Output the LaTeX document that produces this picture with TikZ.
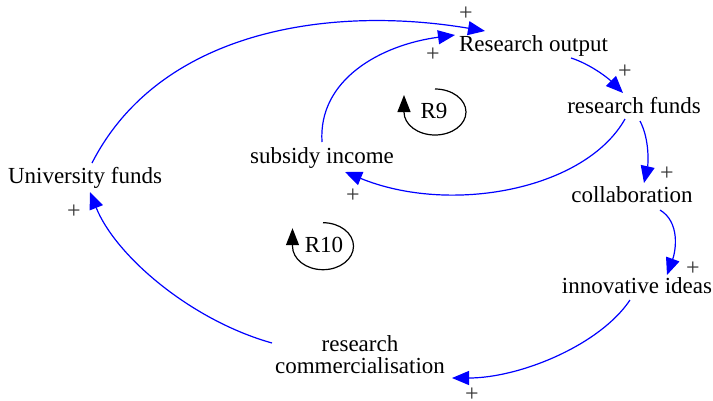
\documentclass[tikz,border=0pt]{standalone}
\usepackage{fontspec}
\setmainfont{Liberation Serif}
\usetikzlibrary{arrows.meta}
\definecolor{edgeblue}{RGB}{0,0,255}
\definecolor{plusgray}{RGB}{51,51,51}
\tikzset{
  lbl/.style={inner sep=0pt, font=\fontsize{23}{21.5}\selectfont, text=black},
  pluslbl/.style={inner sep=0pt, font=\fontsize{24}{24}\selectfont, text=plusgray},
  link/.style={draw=edgeblue, line width=1.2pt, -{Triangle[length=17pt,width=14pt]}, fill=none},
  loopline/.style={draw=black, line width=1.2pt, -{Triangle[length=17pt,width=13pt]}},
}
\begin{document}
\begin{tikzpicture}[x=1pt,y=-1pt]
\useasboundingbox (0,0) rectangle (713,400);
% nodes
\node[lbl, anchor=base] (ro) at (533.5,51) {Research output};
\node[lbl, anchor=base] (rf) at (634,113) {research funds};
\node[lbl, anchor=base] (co) at (632,202) {collaboration};
\node[lbl, anchor=base] (ii) at (637,293) {innovative ideas};
\node[lbl, align=center, anchor=center] (rc) at (360,354.5) {research\\commercialisation};
\node[lbl, anchor=base] (uf) at (85,183) {University funds};
\node[lbl, anchor=base] (si) at (322,163) {subsidy income};
\node[lbl, anchor=base] (r9) at (434,118) {R9};
\node[lbl, anchor=base] (r10) at (324,252.7) {R10};
% edges
\draw[link] ([shift={(7,-20)}]uf.base) .. controls (160,30) and (330,5) .. ([shift={(-48.5,-20)}]ro.base);
\draw[link] ([shift={(0,-21)}]si.base) .. controls (318,80) and (380,45) .. ([shift={(-78.5,-16)}]ro.base);
\draw[link] ([shift={(37.5,7)}]ro.base) .. controls (590,64) and (608,78) .. ([shift={(-11,-20)}]rf.base);
\draw[link] ([shift={(-9,6)}]rf.base) .. controls (585,190) and (450,215) .. ([shift={(23,9)}]si.base);
\draw[link] ([shift={(6,8)}]rf.base) .. controls (650,140) and (648,165) .. ([shift={(12,-19)}]co.base);
\draw[link] ([shift={(28,8)}]co.base) .. controls (680,222) and (676,250) .. ([shift={(30,-18)}]ii.base);
\draw[link] ([shift={(-7,7)}]ii.base) .. controls (600,345) and (520,378) .. ([shift={(92,23.5)}]rc.center);
\draw[link] ([shift={(-88,-11.5)}]rc.center) .. controls (190,320) and (115,255) .. ([shift={(5,9)}]uf.base);
% loops
\draw[loopline] ([shift={(1,-29)}]r9.base) arc[start angle=-90, end angle=180, x radius=31, y radius=23] -- ++(0,-17);
\draw[loopline] ([shift={(-1,-30)}]r10.base) arc[start angle=-90, end angle=180, x radius=30.5, y radius=23.5] -- ++(0,-18);
% polarity signs
\node[pluslbl] (p1) at (466,14) {+};
\node[pluslbl] (p2) at (433,55) {+};
\node[pluslbl] (p3) at (625,72) {+};
\node[pluslbl] (p4) at (353,196) {+};
\node[pluslbl] (p5) at (667,174) {+};
\node[pluslbl] (p6) at (693,269) {+};
\node[pluslbl] (p7) at (472,395) {+};
\node[pluslbl] (p8) at (74,212) {+};
\end{tikzpicture}
\end{document}
